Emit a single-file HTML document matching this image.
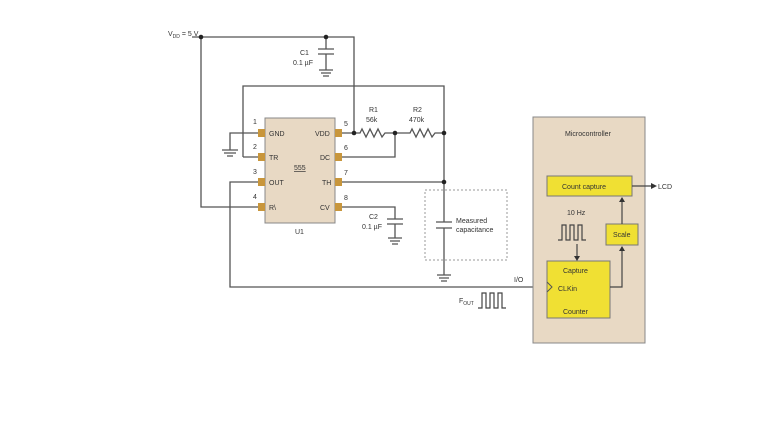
<!DOCTYPE html>
<html><head><meta charset="utf-8"><style>
html,body{margin:0;padding:0;background:#fff}
svg{display:block}
text{font-family:"Liberation Sans",sans-serif;fill:#333}
</style></head><body>
<svg width="768" height="432" viewBox="0 0 768 432" xmlns="http://www.w3.org/2000/svg">
<g stroke="#555" stroke-width="1.3" fill="none">
<path d="M192 37 H354 V133"/>
<path d="M201 37 V207 H258"/>
<path d="M326 37 V49 M318 49 H334 M318 54 H334 M326 54 V70 M319 70 H333 M321 73 H331 M323 76 H329"/>
<path d="M243 157 H258 M243 157 V86 H444 V222 M444 228 V275"/>
<path d="M258 133 H230 V150 M222 150 H238 M224 153 H236 M227 156 H233"/>
<path d="M342 133 H360 l2 -4 l4 8 l4 -8 l4 8 l4 -8 l4 8 l3 -4 H410 l2 -4 l4 8 l4 -8 l4 8 l4 -8 l4 8 l3 -4 H444"/>
<path d="M342 157 H395 V133"/>
<path d="M342 182 H444"/>
<path d="M342 207 H395 V219 M387 219 H403 M387 224 H403 M395 224 V238 M388 238 H402 M390 241 H400 M392 244 H398"/>
<path d="M436 222 H452 M436 228 H452 M437 275 H451 M439 278 H449 M441 281 H447"/>
<path d="M258 182 H230 V287 H540"/>
</g>
<path d="M538 283 L545 287 L538 291" stroke="#555" stroke-width="1.2" fill="none"/>
<rect x="425" y="190" width="82" height="70" fill="none" stroke="#999" stroke-width="1" stroke-dasharray="2,2"/>
<g fill="#222">
<circle cx="201" cy="37" r="2.3"/><circle cx="326" cy="37" r="2.3"/>
<circle cx="354" cy="133" r="2.3"/><circle cx="395" cy="133" r="2.3"/>
<circle cx="444" cy="133" r="2.3"/><circle cx="444" cy="182" r="2.3"/>
<circle cx="538" cy="287" r="2"/>
</g>
<rect x="265" y="118" width="70" height="105" fill="#e8d9c4" stroke="#888" stroke-width="1"/>
<g fill="#c8963c">
<rect x="258" y="129" width="7" height="8"/><rect x="258" y="153" width="7" height="8"/>
<rect x="258" y="178" width="7" height="8"/><rect x="258" y="203" width="7" height="8"/>
<rect x="335" y="129" width="7" height="8"/><rect x="335" y="153" width="7" height="8"/>
<rect x="335" y="178" width="7" height="8"/><rect x="335" y="203" width="7" height="8"/>
</g>
<g font-size="7">
<text x="269" y="136">GND</text><text x="269" y="160">TR</text><text x="269" y="185">OUT</text><text x="269" y="210">R\</text>
<text x="315" y="136">VDD</text><text x="320" y="160">DC</text><text x="322" y="185">TH</text><text x="320" y="210">CV</text>
<text x="294" y="170" text-decoration="underline">555</text>
<text x="295" y="234">U1</text>
<text x="253" y="124">1</text><text x="253" y="149">2</text><text x="253" y="174">3</text><text x="253" y="199">4</text>
<text x="344" y="126">5</text><text x="344" y="150">6</text><text x="344" y="175">7</text><text x="344" y="200">8</text>
<text x="369" y="112">R1</text><text x="366" y="122">56k</text>
<text x="413" y="112">R2</text><text x="409" y="122">470k</text>
<text x="300" y="55">C1</text><text x="293" y="65">0.1 µF</text>
<text x="369" y="219">C2</text><text x="362" y="229">0.1 µF</text>
<text x="168" y="36">V<tspan font-size="5" dy="2">DD</tspan><tspan dy="-2"> = 5 V</tspan></text>
<text x="456" y="223">Measured</text><text x="456" y="232">capacitance</text>
<text x="514" y="282">I/O</text>
<text x="459" y="303">F<tspan font-size="5" dy="2">OUT</tspan></text>
</g>
<path d="M478 308 h4 v-15 h4 v15 h4 v-15 h4 v15 h4 v-15 h4 v15 h4" stroke="#444" stroke-width="1.2" fill="none"/>
<rect x="533" y="117" width="112" height="226" fill="#e8d9c4" stroke="#888" stroke-width="1"/>
<text x="565" y="136" font-size="7">Microcontroller</text>
<rect x="547" y="176" width="85" height="20" fill="#f0e033" stroke="#777" stroke-width="1"/>
<text x="562" y="189" font-size="7">Count capture</text>
<rect x="606" y="224" width="32" height="21" fill="#f0e033" stroke="#777" stroke-width="1"/>
<text x="613" y="237" font-size="7">Scale</text>
<rect x="547" y="261" width="63" height="57" fill="#f0e033" stroke="#777" stroke-width="1"/>
<text x="563" y="273" font-size="7">Capture</text>
<text x="558" y="291" font-size="7">CLKin</text>
<text x="563" y="314" font-size="7">Counter</text>
<path d="M547 282 l5 5 l-5 5" stroke="#555" fill="none" stroke-width="1"/>
<text x="567" y="215" font-size="7">10 Hz</text>
<path d="M558 240 h4 v-15 h4 v15 h4 v-15 h4 v15 h4 v-15 h4 v15 h4" stroke="#444" stroke-width="1.2" fill="none"/>
<g stroke="#444" stroke-width="1.2" fill="none">
<path d="M577 244 V258"/><path d="M610 287 H622 V250"/><path d="M622 224 V201"/><path d="M632 186 H652"/>
</g>
<g fill="#333">
<path d="M574 256 L577 261 L580 256Z"/><path d="M619 251 L622 246 L625 251Z"/><path d="M619 202 L622 197 L625 202Z"/><path d="M651 183 L657 186 L651 189Z"/>
</g>
<text x="658" y="189" font-size="7">LCD</text>
</svg>
</body></html>
